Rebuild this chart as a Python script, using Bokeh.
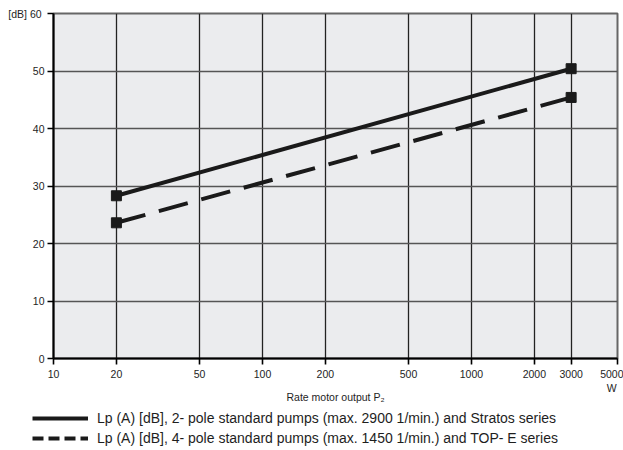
from bokeh.plotting import figure
from bokeh.models import FixedTicker, Legend, LegendItem, NumeralTickFormatter
from bokeh.embed import file_html
from bokeh.resources import INLINE

# ---- data ----
power_w = [20, 3000]
lp_2pole = [28.3, 50.4]
lp_4pole = [23.6, 45.4]
x_ticks = [10, 20, 50, 100, 200, 500, 1000, 2000, 3000, 5000]
y_ticks = [0, 10, 20, 30, 40, 50, 60]
label_2pole = "Lp (A) [dB], 2- pole standard pumps (max. 2900 1/min.) and Stratos series"
label_4pole = "Lp (A) [dB], 4- pole standard pumps (max. 1450 1/min.) and TOP- E series"
x_title = "Rate motor output P\u2082"
y_unit = "[dB]"
x_unit = "W"

FONT = "Liberation Sans"
INK = "#1a1a1a"
TXT = "#1e1e1e"
NAN = float("nan")

p = figure(width=623, height=405, x_axis_type="log", x_range=(10, 5000), y_range=(0, 60),
           output_backend="svg", toolbar_location=None,
           min_border_left=53, min_border_right=6, min_border_top=13, min_border_bottom=47)

p.background_fill_color = "#ebecee"
p.border_fill_color = "white"
p.outline_line_color = "#666666"
p.outline_line_width = 2

p.xaxis.ticker = FixedTicker(ticks=x_ticks)
p.yaxis.ticker = FixedTicker(ticks=y_ticks)
p.xaxis.formatter = NumeralTickFormatter(format="0")
p.xaxis.major_label_overrides = {5000: "5000\n" + x_unit}
p.yaxis.major_label_overrides = {60: y_unit + "  60"}

p.xgrid.grid_line_color = "#222222"
p.xgrid.grid_line_width = 1.3
p.ygrid.grid_line_color = "#555555"
p.ygrid.grid_line_width = 1.6

for ax in (p.xaxis, p.yaxis):
    ax.axis_line_color = "black"
    ax.axis_line_width = 2
    ax.major_tick_line_color = "black"
    ax.major_tick_line_width = 1.6
    ax.major_tick_out = 6
    ax.major_tick_in = 0
    ax.minor_tick_line_color = None
    ax.major_label_text_font = FONT
    ax.major_label_text_font_size = "10.5px"
    ax.major_label_text_color = TXT
    ax.major_label_standoff = 3

p.xaxis.axis_label = x_title
p.xaxis.axis_label_text_font = FONT
p.xaxis.axis_label_text_font_size = "10.5px"
p.xaxis.axis_label_text_font_style = "normal"
p.xaxis.axis_label_text_color = TXT
p.xaxis.axis_label_standoff = -6

# data lines
p.line(power_w, lp_2pole, line_color=INK, line_width=4)
p.line(power_w, lp_4pole, line_color=INK, line_width=4, line_dash="30 14")
p.scatter(power_w, lp_2pole, marker="square", size=10, color=INK)
p.scatter(power_w, lp_4pole, marker="square", size=10, color=INK)

# legend strip below the chart (separate root, so it is not frame-aligned)
q = figure(width=623, height=45, x_range=(0, 1), y_range=(0, 1),
           output_backend="svg", toolbar_location=None,
           x_axis_location=None, y_axis_location=None,
           min_border=0, min_border_left=0, min_border_right=0,
           min_border_top=0, min_border_bottom=0)
q.outline_line_color = None
q.grid.visible = False
q.background_fill_color = "white"
q.border_fill_color = "white"
leg1 = q.line(x=[NAN], y=[NAN], line_color=INK, line_width=4)
leg2 = q.line(x=[NAN], y=[NAN], line_color=INK, line_width=4, line_dash="11 5")

legend = Legend(items=[LegendItem(label=label_2pole, renderers=[leg1]),
                       LegendItem(label=label_4pole, renderers=[leg2])],
                location=(32, 2), glyph_width=56, glyph_height=20, label_height=20,
                label_standoff=9, spacing=0, padding=0, margin=0,
                border_line_color=None, background_fill_alpha=0,
                label_text_font=FONT, label_text_font_size="14px",
                label_text_color=TXT)
q.add_layout(legend, "center")

open("out.html", "w").write(file_html([p, q], INLINE))
